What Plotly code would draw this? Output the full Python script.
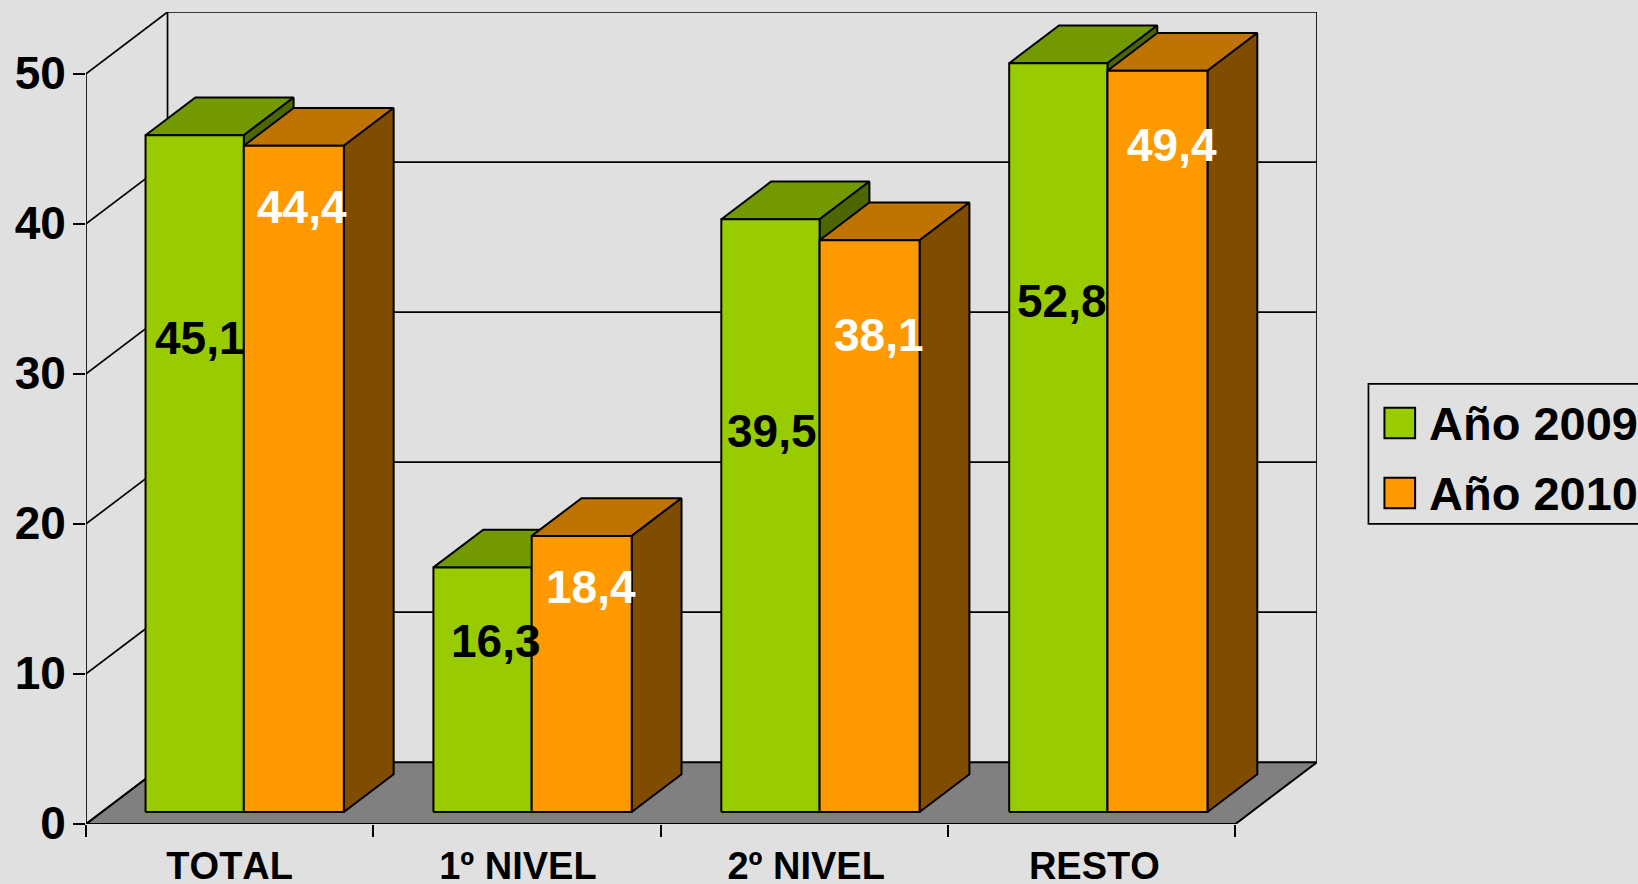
import plotly.graph_objects as go

# ---- data ----
categories = ["TOTAL", "1º NIVEL", "2º NIVEL", "RESTO"]
values_2009 = [45.1, 16.3, 39.5, 52.8]
values_2010 = [44.4, 18.4, 38.1, 49.4]
series_names = ["Año 2009", "Año 2010"]
y_ticks = [0, 10, 20, 30, 40, 50]

# ---- style and geometry ----
W, H = 1638, 884
L, R, T, B = 85.5, 1317.5, 12.0, 823.7     # plot box in page pixels
AXIS_MAX = 50
CLIP_MAX = 49.9                            # bars taller than the axis stop just under its top
PX_PER_CAT = 287.6
PX_PER_UNIT = 15.0
DEPTH_X = (R - (L + 4 * PX_PER_CAT)) / PX_PER_CAT   # oblique depth in category units
DEPTH_Y = (B - T) / PX_PER_UNIT - AXIS_MAX          # oblique depth in value units
BAR_W = [0.342, 0.348]
BAR_GAP = 0.152
BAR_STEP = 1.0018                          # bar groups sit a hair wider than the tick spacing
LABEL_GAP = 0.154
D_FRONT, D_BACK = 0.1945, 0.8055
BG = "#E0E0E0"
FLOOR = "#808080"
FONT = "Liberation Sans"
LW_AXIS = 1.7
LW_BAR = 2
colors = {
    0: dict(front="#99CC00", top="#739900", side="#4D6600", label="#000000"),
    1: dict(front="#FF9900", top="#BF7300", side="#804D00", label="#FFFFFF"),
}
# hand-placed label offsets from the bar's top-centre, in pixels (dx, drop)
label_offsets = {
    0: [(5.0, 202.8), (13.5, 73.8), (2.2, 212.2), (5.0, 238)],
    1: [(7.3, 61.3), (9, 51), (10, 94.8), (15.6, 74.3)],
}


def proj(x, y, d):
    """Oblique projection of (category x, value y, depth d) on the plot plane."""
    return x + d * DEPTH_X, y + d * DEPTH_Y


def poly(points):
    xs, ys = [], []
    for p in points:
        a, b = proj(*p)
        xs.append(a)
        ys.append(b)
    xs.append(xs[0])
    ys.append(ys[0])
    return xs, ys


fig = go.Figure()


def add_line(pts, width=LW_AXIS):
    xs, ys = [], []
    for seg in pts:
        for p in seg:
            a, b = proj(*p)
            xs.append(a)
            ys.append(b)
        xs.append(None)
        ys.append(None)
    fig.add_trace(go.Scatter(x=xs, y=ys, mode="lines", line=dict(color="#000000", width=width),
                             hoverinfo="skip", showlegend=False, cliponaxis=False))


def add_faces(polys, color, name):
    xs, ys = [], []
    for pts in polys:
        a, b = poly(pts)
        xs += a + [None]
        ys += b + [None]
    fig.add_trace(go.Scatter(x=xs, y=ys, mode="lines", fill="toself", fillcolor=color, name=name,
                             line=dict(color="#000000", width=LW_BAR), hoverinfo="skip",
                             showlegend=False, cliponaxis=False))


n = len(categories)
# floor
add_faces([[(0, 0, 0), (n, 0, 0), (n, 0, 1), (0, 0, 1)]], FLOOR, "floor")
# walls and gridlines
segments = []
for t in y_ticks:
    if t > 0:
        segments.append([(0, t, 1), (n, t, 1)])
    segments.append([(0, t, 0), (0, t, 1)])
segments.append([(0, 0, 1), (0, AXIS_MAX, 1)])
segments.append([(n, 0, 1), (n, AXIS_MAX, 1)])
segments.append([(0, 0, 0), (0, AXIS_MAX, 0)])
segments.append([(0, 0, 0), (n, 0, 0)])
add_line(segments)

# bars: series by series so that 2010 paints over 2009
all_series = [values_2009, values_2010]
for s, vals in enumerate(all_series):
    tops, sides, fronts = [], [], []
    for i, v in enumerate(vals):
        h = min(v, CLIP_MAX)
        x0 = i * BAR_STEP + BAR_GAP + sum(BAR_W[:s])
        x1 = x0 + BAR_W[s]
        tops.append([(x0, h, D_FRONT), (x1, h, D_FRONT), (x1, h, D_BACK), (x0, h, D_BACK)])
        sides.append([(x1, 0, D_FRONT), (x1, h, D_FRONT), (x1, h, D_BACK), (x1, 0, D_BACK)])
        fronts.append([(x0, 0, D_FRONT), (x1, 0, D_FRONT), (x1, h, D_FRONT), (x0, h, D_FRONT)])
    add_faces(tops, colors[s]["top"], series_names[s] + " top")
    add_faces(sides, colors[s]["side"], series_names[s] + " side")
    add_faces(fronts, colors[s]["front"], series_names[s])

# data labels
annotations = []
for s, vals in enumerate(all_series):
    for i, v in enumerate(vals):
        h = min(v, CLIP_MAX)
        xc, yc = proj(i + LABEL_GAP + sum(BAR_W[:s]) + BAR_W[s] / 2, h, D_FRONT)
        dx, drop = label_offsets[s][i]
        annotations.append(dict(x=xc, y=yc, xref="x", yref="y", text=f"{v:.1f}".replace(".", ","),
                                showarrow=False, xshift=dx, yshift=-drop, xanchor="center", yanchor="middle",
                                font=dict(family=FONT, size=46, color=colors[s]["label"], weight=700)))


# legend, drawn in page pixels
def px(x):
    return (x - L) / (R - L)


def py(y):
    return (B - y) / (B - T)


shapes = [dict(type="rect", xref="paper", yref="paper", x0=px(1369), x1=px(1660), y0=py(523.7), y1=py(383.7),
               line=dict(color="#000000", width=LW_AXIS), fillcolor="rgba(0,0,0,0)", layer="above")]
for s, (top, mid) in enumerate([(407.7, 423.5), (477.7, 493.5)]):
    shapes.append(dict(type="rect", xref="paper", yref="paper", x0=px(1385), x1=px(1415.7),
                       y0=py(top + 30.3), y1=py(top), fillcolor=colors[s]["front"],
                       line=dict(color="#000000", width=LW_BAR), layer="above"))
    annotations.append(dict(x=px(1428), y=py(mid), xref="paper", yref="paper", text=series_names[s],
                            showarrow=False, xanchor="left", yanchor="middle",
                            font=dict(family=FONT, size=47, color="#000000", weight=700)))

fig.update_layout(
    width=W, height=H, autosize=False,
    margin=dict(l=L, r=W - R, t=T, b=H - B, pad=0),
    paper_bgcolor=BG, plot_bgcolor=BG,
    showlegend=False,
    annotations=annotations, shapes=shapes,
    xaxis=dict(
        automargin=False,
        range=[0, n + DEPTH_X], showgrid=False, zeroline=False, showline=False,
        tickmode="array", tickvals=[i * 1.003 + 0.5 for i in range(n)], ticktext=categories,
        ticks="", ticklabelstandoff=16,
        tickfont=dict(family=FONT, size=38, color="#000000", weight=700),
        minor=dict(tickmode="array", tickvals=list(range(n + 1)), ticks="outside", ticklen=12,
                   tickwidth=1.7, tickcolor="#000000", showgrid=False),
        fixedrange=True,
    ),
    yaxis=dict(
        automargin=False,
        range=[0, AXIS_MAX + DEPTH_Y], showgrid=False, zeroline=False, showline=False,
        tickmode="array", tickvals=y_ticks, ticktext=[str(t) for t in y_ticks],
        ticks="outside", ticklen=12, tickwidth=1.7, tickcolor="#000000",
        ticklabelstandoff=-2, ticklabelshift=-1,
        tickfont=dict(family=FONT, size=46, color="#000000", weight=700),
        fixedrange=True,
    ),
)

fig.write_html(
    "out.html", config=dict(displayModeBar=False),
    post_script=(
        "document.body.style.margin='0';document.body.style.overflow='hidden';"
        "var st=document.createElement('style');st.textContent='svg text{font-kerning:none;}';"
        "document.head.appendChild(st);"
    ),
)
